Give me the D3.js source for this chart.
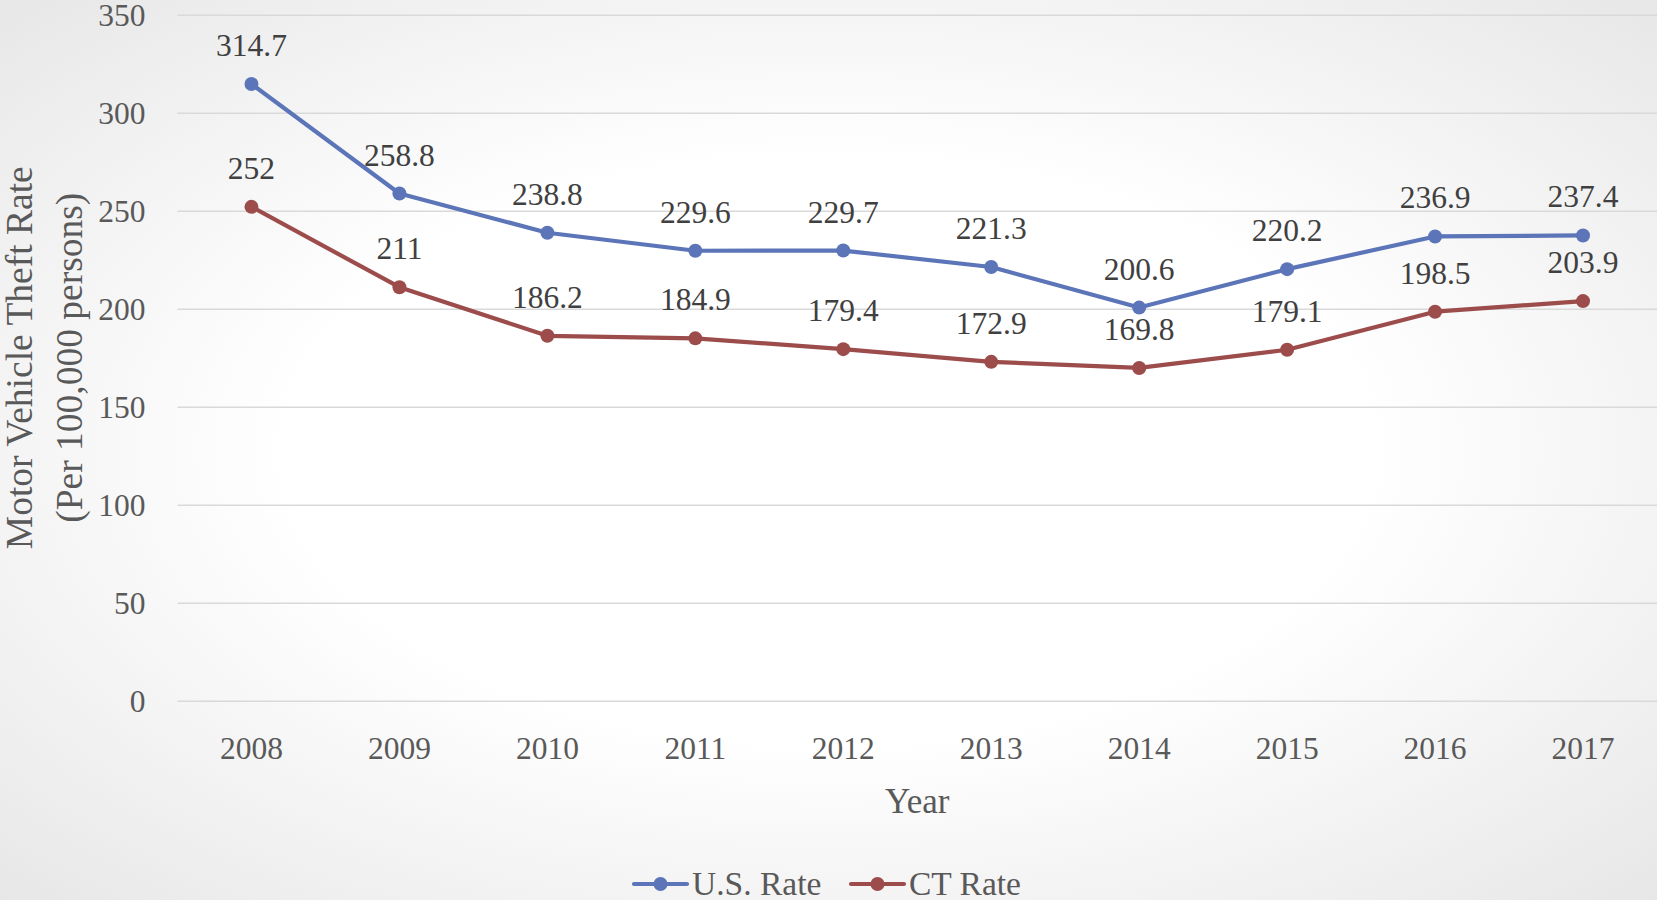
<!DOCTYPE html>
<html>
<head>
<meta charset="utf-8">
<script src="https://cdn.jsdelivr.net/npm/d3@7"></script>
<style>
  html, body { margin: 0; padding: 0; }
  body { width: 1657px; height: 900px; overflow: hidden; }
  svg { display: block; font-family: "Liberation Serif", "Times New Roman", serif; }
</style>
</head>
<body>
<svg id="chart" width="1657" height="900"></svg>
<script>
const years = ["2008","2009","2010","2011","2012","2013","2014","2015","2016","2017"];
const usRate = [314.7, 258.8, 238.8, 229.6, 229.7, 221.3, 200.6, 220.2, 236.9, 237.4];
const ctRate = [252, 211, 186.2, 184.9, 179.4, 172.9, 169.8, 179.1, 198.5, 203.9];
const usLabels = ["314.7","258.8","238.8","229.6","229.7","221.3","200.6","220.2","236.9","237.4"];
const ctLabels = ["252","211","186.2","184.9","179.4","172.9","169.8","179.1","198.5","203.9"];
const yTicks = [0, 50, 100, 150, 200, 250, 300, 350];
const seriesNames = ["U.S. Rate", "CT Rate"];
const seriesColors = ["#5b75b8", "#9d4c4c"];

const W = 1657, H = 900;
const plot = { left: 177.5, right: 1657, top: 14.8, bottom: 700.7 };

const svg = d3.select("#chart");

// background radial gradient
const defs = svg.append("defs");
const grad = defs.append("radialGradient").attr("id", "bg")
  .attr("cx", "50%").attr("cy", "50%").attr("r", "72%");
grad.append("stop").attr("offset", "0%").attr("stop-color", "#ffffff");
grad.append("stop").attr("offset", "45%").attr("stop-color", "#ffffff");
grad.append("stop").attr("offset", "100%").attr("stop-color", "#e6e6e6");
svg.append("rect").attr("width", W).attr("height", H).attr("fill", "url(#bg)");

const x = d3.scaleBand().domain(years).range([plot.left, plot.right]).padding(0);
const y = d3.scaleLinear().domain([0, 350]).range([plot.bottom, plot.top]);
const cx = d => x(d) + x.bandwidth() / 2;

// gridlines
const yAxis = d3.axisLeft(y).tickValues(yTicks).tickSize(-(plot.right - plot.left)).tickPadding(32);
const gy = svg.append("g").attr("transform", `translate(${plot.left},0)`).call(yAxis);
gy.select(".domain").remove();
gy.selectAll(".tick line").attr("stroke", "#d9d9d9").attr("stroke-width", 1.6);
gy.selectAll(".tick text").attr("fill", "#595959").attr("font-size", 31.5)
  .attr("font-family", "Liberation Serif, serif").attr("dy", "0.34em").attr("x", -32);

// x axis labels
const xAxis = d3.axisBottom(x).tickSize(0).tickPadding(0);
const gx = svg.append("g").attr("transform", `translate(0,${plot.bottom})`).call(xAxis);
gx.select(".domain").remove();
gx.selectAll(".tick text").attr("fill", "#595959").attr("font-size", 31.5)
  .attr("font-family", "Liberation Serif, serif").attr("dy", 0).attr("y", 58);

// series
const series = [
  { name: seriesNames[0], values: usRate, labels: usLabels, color: seriesColors[0] },
  { name: seriesNames[1], values: ctRate, labels: ctLabels, color: seriesColors[1] }
];
const line = d3.line().x((d, i) => cx(years[i])).y(d => y(d));

series.forEach(s => {
  svg.append("path").datum(s.values).attr("d", line)
    .attr("fill", "none").attr("stroke", s.color).attr("stroke-width", 4.2)
    .attr("stroke-linejoin", "round").attr("stroke-linecap", "round");
  svg.append("g").selectAll("circle").data(s.values).join("circle")
    .attr("cx", (d, i) => cx(years[i])).attr("cy", d => y(d)).attr("r", 7)
    .attr("fill", s.color);
});
series.forEach(s => {
  svg.append("g").selectAll("text").data(s.values).join("text")
    .attr("x", (d, i) => cx(years[i])).attr("y", d => y(d) - 28)
    .attr("text-anchor", "middle").attr("font-size", 31.5).attr("fill", "#404040")
    .text((d, i) => s.labels[i]);
});

// axis titles
svg.append("text").attr("x", (plot.left + plot.right) / 2).attr("y", 813)
  .attr("text-anchor", "middle").attr("font-size", 35).attr("fill", "#595959").text("Year");

const yt = svg.append("text").attr("transform", `translate(0,${(plot.top + plot.bottom) / 2}) rotate(-90)`)
  .attr("text-anchor", "middle").attr("font-size", 37.5).attr("fill", "#595959");
yt.append("tspan").attr("x", 0).attr("y", 32).text("Motor Vehicle Theft Rate");
yt.append("tspan").attr("x", 0).attr("y", 82).text("(Per 100,000 persons)");

// legend
const legendItems = [
  { name: seriesNames[0], color: seriesColors[0], x0: 634 },
  { name: seriesNames[1], color: seriesColors[1], x0: 851 }
];
const lg = svg.append("g");
legendItems.forEach(it => {
  const g = lg.append("g");
  g.append("line").attr("x1", it.x0).attr("x2", it.x0 + 53).attr("y1", 884).attr("y2", 884)
    .attr("stroke", it.color).attr("stroke-width", 4.2).attr("stroke-linecap", "round");
  g.append("circle").attr("cx", it.x0 + 26.5).attr("cy", 884).attr("r", 7).attr("fill", it.color);
  g.append("text").attr("x", it.x0 + 58).attr("y", 895).attr("font-size", 33.5)
    .attr("fill", "#595959").text(it.name);
});
</script>
</body>
</html>
